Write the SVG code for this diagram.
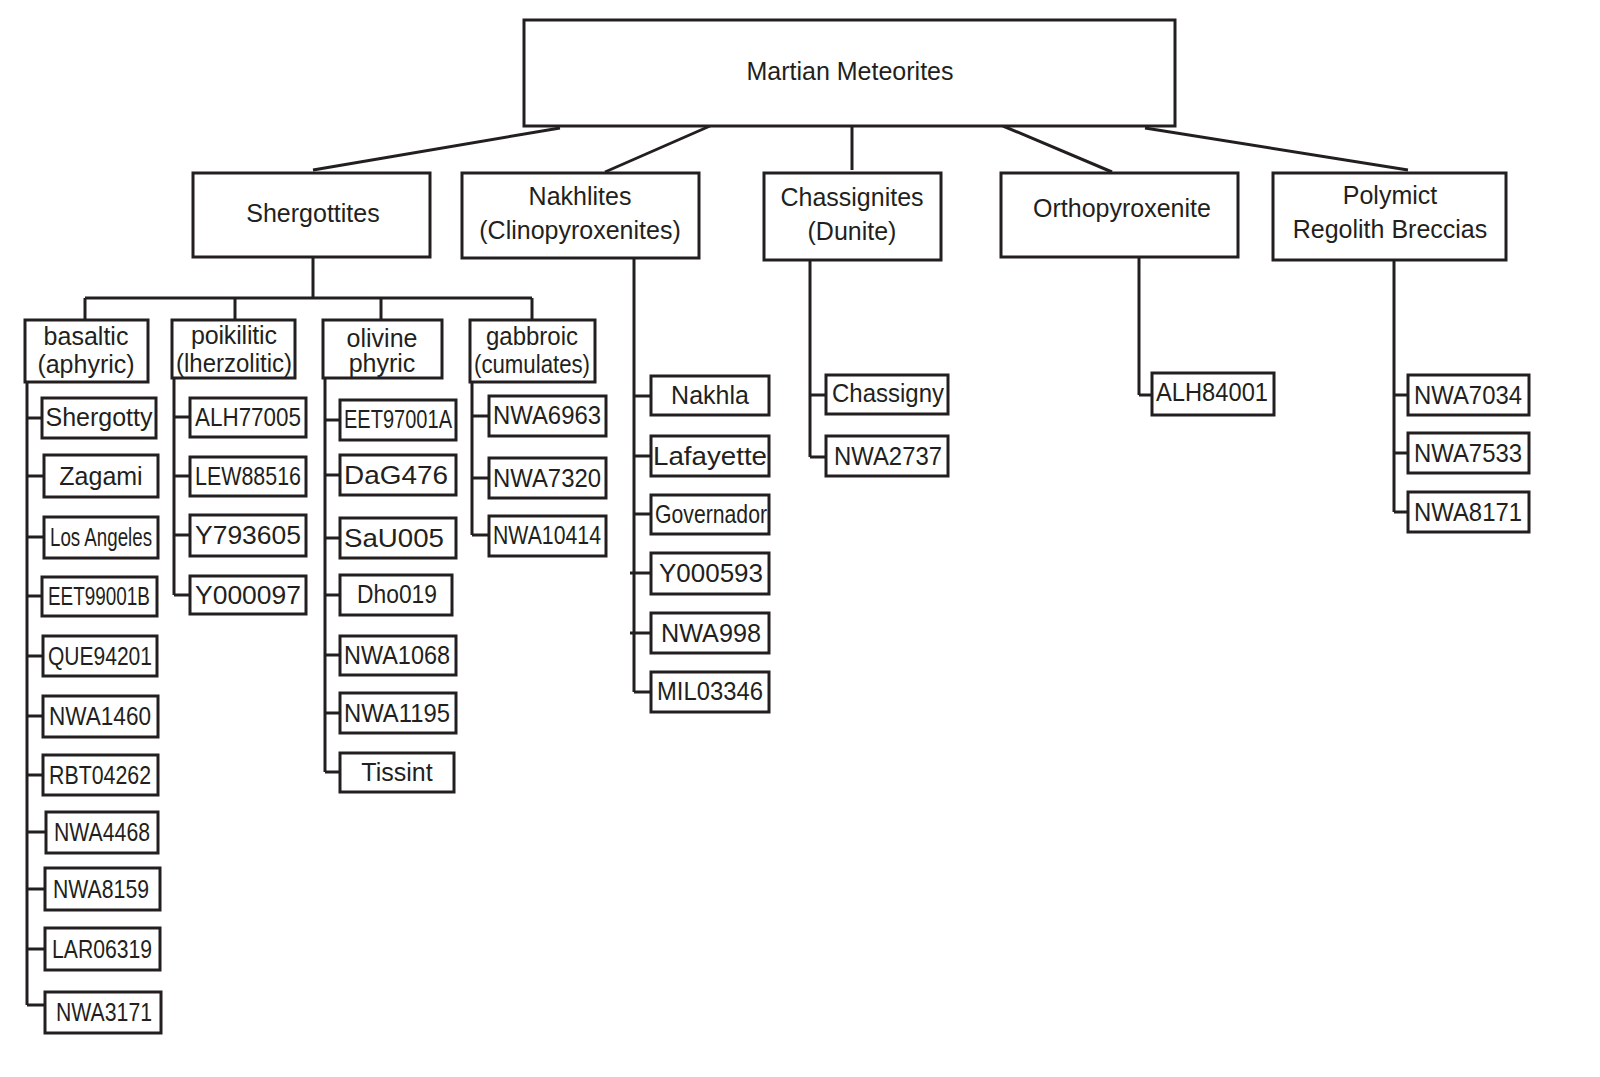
<svg xmlns="http://www.w3.org/2000/svg" width="1600" height="1077" viewBox="0 0 1600 1077">
<style>
rect{fill:#fff;stroke:#231f20;stroke-width:3}
rect.bg{stroke:none}
line,path{stroke:#231f20;stroke-width:3;fill:none}
text{font-family:"Liberation Sans",Arial,sans-serif;fill:#231f20;text-anchor:middle;font-size:25px}
.s{font-size:24px}
</style>
<rect class="bg" width="1600" height="1077"/>
<g id="connectors">
<path d="M560 128L313 170M710 126L605 172M852 126V170M1003 126L1112 172M1145 128L1408 170"/>
<path d="M313 257V298M85 298H532M85 298V320M235 298V320M381 298V320M532 298V320"/>
<path d="M27 382V1005M174 378V595M325 378V772M472 382V535M634 258V692M810 260V457M1139 257V395M1394 260V512"/>
<path d="M27 418H42M27 476H44M27 537H44M27 596H42M27 656H43M27 716H43M27 775H43M27 832H46M27 889H45M27 949H45M27 1005H45"/>
<path d="M174 417H190M174 476H190M174 535H190M174 595H190"/>
<path d="M325 420H340M325 475H340M325 538H340M325 595H340M325 655H340M325 713H340M325 772H340"/>
<path d="M472 416H489M472 478H489M472 535H489"/>
<path d="M634 396H651M634 456H651M634 514H651M630 573H651M630 633H651M634 692H651"/>
<path d="M810 395H826M810 457H826M1139 395H1152M1394 395H1408M1394 453H1408M1394 512H1408"/>
</g>
<g id="root"><rect x="524" y="20" width="651" height="106"/><text x="850" y="80">Martian Meteorites</text></g>
<g id="shergottites"><rect x="193" y="173" width="237" height="84"/><text x="313" y="222">Shergottites</text></g>
<g id="nakhlites"><rect x="462" y="173" width="237" height="85"/><text x="580" y="205">Nakhlites</text><text x="580" y="239">(Clinopyroxenites)</text></g>
<g id="chassignites"><rect x="764" y="173" width="177" height="87"/><text x="852" y="206">Chassignites</text><text x="852" y="240">(Dunite)</text></g>
<g id="ortho"><rect x="1001" y="173" width="237" height="84"/><text x="1122" y="217">Orthopyroxenite</text></g>
<g id="polymict"><rect x="1273" y="173" width="233" height="87"/><text x="1390" y="204">Polymict</text><text x="1390" y="238">Regolith Breccias</text></g>
<g id="basaltic"><rect x="25" y="320" width="123" height="62"/><text x="86" y="345">basaltic</text><text x="86" y="373">(aphyric)</text></g>
<g id="poikilitic"><rect x="172" y="320" width="123" height="58"/><text x="234" y="344" textLength="86">poikilitic</text><text x="234" y="372" textLength="116" lengthAdjust="spacingAndGlyphs">(lherzolitic)</text></g>
<g id="olivine"><rect x="323" y="320" width="119" height="58"/><text x="382" y="347" font-size="24">olivine</text><text x="382" y="372" font-size="24">phyric</text></g>
<g id="gabbroic"><rect x="470" y="320" width="125" height="62"/><text x="532" y="345" textLength="92" lengthAdjust="spacingAndGlyphs">gabbroic</text><text x="532" y="373" textLength="116" lengthAdjust="spacingAndGlyphs">(cumulates)</text></g>
<g class="s">
<g id="n1"><rect x="42" y="398" width="114" height="40"/><text x="99" y="426">Shergotty</text></g>
<g id="n2"><rect x="44" y="455" width="114" height="42"/><text x="101" y="485">Zagami</text></g>
<g id="n3"><rect x="44" y="517" width="114" height="41"/><text x="101" y="546" textLength="102" lengthAdjust="spacingAndGlyphs">Los Angeles</text></g>
<g id="n4"><rect x="42" y="577" width="115" height="39"/><text x="99" y="605" textLength="102" lengthAdjust="spacingAndGlyphs">EET99001B</text></g>
<g id="n5"><rect x="43" y="636" width="114" height="40"/><text x="100" y="665" textLength="104" lengthAdjust="spacingAndGlyphs">QUE94201</text></g>
<g id="n6"><rect x="43" y="696" width="115" height="41"/><text x="100" y="725" textLength="102" lengthAdjust="spacingAndGlyphs">NWA1460</text></g>
<g id="n7"><rect x="43" y="755" width="115" height="40"/><text x="100" y="784" textLength="102" lengthAdjust="spacingAndGlyphs">RBT04262</text></g>
<g id="n8"><rect x="46" y="812" width="112" height="41"/><text x="102" y="841" textLength="96" lengthAdjust="spacingAndGlyphs">NWA4468</text></g>
<g id="n9"><rect x="45" y="868" width="115" height="42"/><text x="101" y="898" textLength="96" lengthAdjust="spacingAndGlyphs">NWA8159</text></g>
<g id="n10"><rect x="45" y="928" width="115" height="42"/><text x="102" y="958" textLength="100" lengthAdjust="spacingAndGlyphs">LAR06319</text></g>
<g id="n11"><rect x="45" y="992" width="116" height="41"/><text x="104" y="1021" textLength="96" lengthAdjust="spacingAndGlyphs">NWA3171</text></g>
<g id="p1"><rect x="190" y="398" width="116" height="39"/><text x="248" y="426" textLength="106" lengthAdjust="spacingAndGlyphs">ALH77005</text></g>
<g id="p2"><rect x="190" y="457" width="116" height="39"/><text x="248" y="485" textLength="106" lengthAdjust="spacingAndGlyphs">LEW88516</text></g>
<g id="p3"><rect x="190" y="515" width="116" height="41"/><text x="248" y="544" textLength="106" lengthAdjust="spacingAndGlyphs">Y793605</text></g>
<g id="p4"><rect x="190" y="576" width="116" height="38"/><text x="248" y="604" textLength="106" lengthAdjust="spacingAndGlyphs">Y000097</text></g>
<g id="o1"><rect x="340" y="400" width="116" height="40"/><text x="398" y="428" textLength="108" lengthAdjust="spacingAndGlyphs">EET97001A</text></g>
<g id="o2"><rect x="340" y="455" width="116" height="40"/><text x="396" y="484" textLength="104" lengthAdjust="spacingAndGlyphs">DaG476</text></g>
<g id="o3"><rect x="340" y="518" width="116" height="40"/><text x="394" y="547" textLength="100" lengthAdjust="spacingAndGlyphs">SaU005</text></g>
<g id="o4"><rect x="340" y="575" width="112" height="40"/><text x="397" y="603" textLength="80" lengthAdjust="spacingAndGlyphs">Dho019</text></g>
<g id="o5"><rect x="340" y="636" width="116" height="39"/><text x="397" y="664" textLength="106" lengthAdjust="spacingAndGlyphs">NWA1068</text></g>
<g id="o6"><rect x="340" y="693" width="116" height="40"/><text x="397" y="722" textLength="106" lengthAdjust="spacingAndGlyphs">NWA1195</text></g>
<g id="o7"><rect x="340" y="753" width="114" height="39"/><text x="397" y="781">Tissint</text></g>
<g id="g1"><rect x="489" y="396" width="117" height="40"/><text x="547" y="424" textLength="108" lengthAdjust="spacingAndGlyphs">NWA6963</text></g>
<g id="g2"><rect x="489" y="458" width="117" height="40"/><text x="547" y="487" textLength="108" lengthAdjust="spacingAndGlyphs">NWA7320</text></g>
<g id="g3"><rect x="489" y="516" width="117" height="40"/><text x="547" y="544" textLength="108" lengthAdjust="spacingAndGlyphs">NWA10414</text></g>
<g id="k1"><rect x="651" y="376" width="118" height="39"/><text x="710" y="404">Nakhla</text></g>
<g id="k2"><rect x="651" y="436" width="118" height="40"/><text x="710" y="465" textLength="114" lengthAdjust="spacingAndGlyphs">Lafayette</text></g>
<g id="k3"><rect x="651" y="495" width="118" height="39"/><text x="711" y="523" textLength="112" lengthAdjust="spacingAndGlyphs">Governador</text></g>
<g id="k4"><rect x="651" y="553" width="118" height="41"/><text x="711" y="582" textLength="104" lengthAdjust="spacingAndGlyphs">Y000593</text></g>
<g id="k5"><rect x="651" y="613" width="118" height="40"/><text x="711" y="642" textLength="100" lengthAdjust="spacingAndGlyphs">NWA998</text></g>
<g id="k6"><rect x="651" y="672" width="118" height="40"/><text x="710" y="700" textLength="106" lengthAdjust="spacingAndGlyphs">MIL03346</text></g>
<g id="c1"><rect x="826" y="375" width="122" height="39"/><text x="888" y="402" textLength="112" lengthAdjust="spacingAndGlyphs">Chassigny</text></g>
<g id="c2"><rect x="826" y="436" width="122" height="40"/><text x="888" y="465" textLength="108" lengthAdjust="spacingAndGlyphs">NWA2737</text></g>
<g id="a1"><rect x="1152" y="373" width="122" height="42"/><text x="1212" y="401" textLength="112" lengthAdjust="spacingAndGlyphs">ALH84001</text></g>
<g id="r1"><rect x="1408" y="375" width="121" height="40"/><text x="1468" y="404" textLength="108" lengthAdjust="spacingAndGlyphs">NWA7034</text></g>
<g id="r2"><rect x="1408" y="433" width="121" height="40"/><text x="1468" y="462" textLength="108" lengthAdjust="spacingAndGlyphs">NWA7533</text></g>
<g id="r3"><rect x="1408" y="492" width="121" height="40"/><text x="1468" y="521" textLength="108" lengthAdjust="spacingAndGlyphs">NWA8171</text></g>
</g>
</svg>
